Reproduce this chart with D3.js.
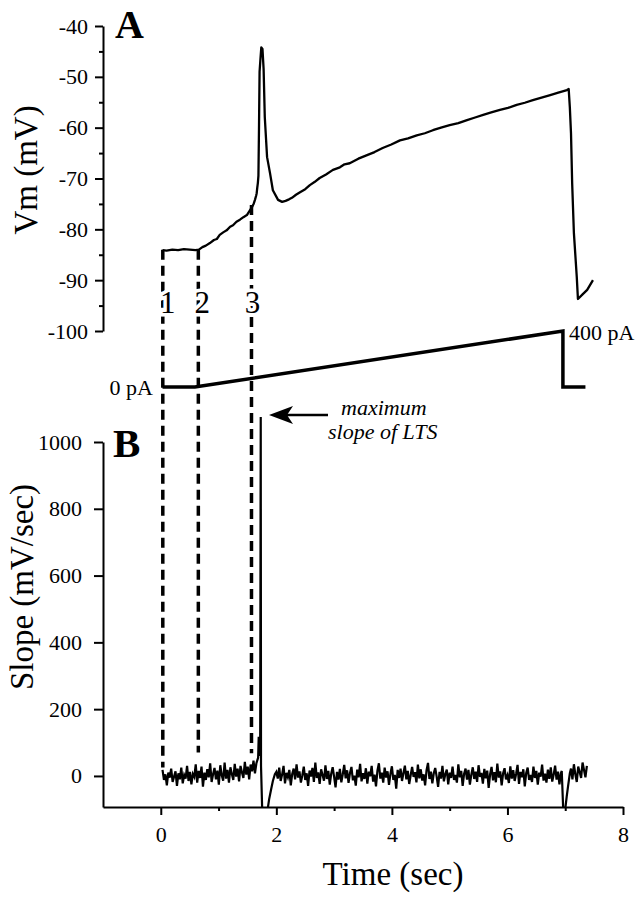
<!DOCTYPE html>
<html>
<head>
<meta charset="utf-8">
<script src="https://cdn.jsdelivr.net/npm/d3@7"></script>
<style>
  body { margin: 0; background: #fff; }
  svg { font-family: "Liberation Serif", "Times New Roman", serif; }
  .axis path, .axis line { stroke: #000; stroke-width: 2; }
  .axis text { font-size: 22px; fill: #000; font-family: "Liberation Serif", serif; }
</style>
</head>
<body>
<script>
// membrane potential trace, [time s, mV]
var vmTrace = [
  [0.03,-84.1],[0.1,-84.2],[0.2,-84.0],[0.3,-84.1],[0.4,-83.9],[0.5,-84.0],[0.6,-84.1],[0.66,-84.0],
  [0.72,-83.5],[0.78,-83.2],[0.85,-82.7],[0.92,-82.1],[0.97,-81.9],[1.02,-81.1],[1.08,-80.6],[1.14,-80.2],
  [1.2,-79.5],[1.25,-79.2],[1.31,-78.5],[1.37,-78.1],[1.43,-77.6],[1.49,-77.2],[1.54,-76.3],[1.58,-75.6],
  [1.61,-74.9],[1.63,-74.2],[1.65,-73.4],[1.66,-72.9],[1.67,-71.8],[1.68,-70.9],[1.69,-69.5],[1.70,-60],
  [1.71,-49],[1.725,-46.5],[1.74,-44.2],[1.76,-44.5],[1.78,-48.5],[1.80,-57.9],[1.84,-65.8],[1.89,-68.9],
  [1.94,-72.3],[2.03,-74.2],[2.1,-74.6],[2.16,-74.4],[2.22,-74.1],[2.27,-73.8],[2.34,-73.2],[2.41,-72.7],
  [2.5,-72.1],[2.58,-71.3],[2.66,-70.7],[2.75,-69.9],[2.86,-69.2],[2.98,-68.3],[3.1,-67.8],[3.18,-67.2],
  [3.27,-67.0],[3.42,-66.1],[3.57,-65.4],[3.7,-64.8],[3.84,-64.0],[3.99,-63.3],[4.14,-62.5],[4.28,-62.1],
  [4.43,-61.5],[4.57,-61.1],[4.71,-60.5],[4.85,-60.0],[5.0,-59.5],[5.15,-59.1],[5.3,-58.5],[5.44,-58.0],
  [5.58,-57.5],[5.72,-57.0],[5.87,-56.5],[6.01,-56.1],[6.16,-55.5],[6.3,-55.1],[6.44,-54.6],[6.59,-54.1],
  [6.74,-53.6],[6.88,-53.1],[7.03,-52.6],[7.06,-52.4],[7.08,-56],[7.10,-61.1],[7.12,-70.9],[7.15,-80.7],
  [7.20,-89.4],[7.22,-93.7],[7.30,-92.8],[7.38,-91.9],[7.48,-90.0]
];

// injected current ramp, [time s, pA]
var currentTrace = [[0.03,0],[0.59,0],[6.96,400],[6.96,0],[7.35,0]];

// slope trace, sampled at 0.025 s, mV/sec
var slopeDt = 0.025;
var slopeStart1 = 0.03;
var slopeSeg1 = [18,-12,5,-28,10,-5,22,-18,-2,14,-30,8,-10,25,-22,3,-8,30,-15,12,-25,6,-3,35,-20,15,-6,28,-32,10,
  -12,20,-4,38,-18,5,24,-10,16,-26,32,2,-14,40,-8,18,-20,26,6,-12,36,-2,22,-16,30,10,-6,42,4,28,-10,34,14,46,8,38,52];
var slopeSpike = [[1.685,55],[1.695,117],[1.72,60],[1.73,1075],[1.735,30],[1.755,-100],[1.85,-100],
  [1.875,-70],[1.91,-40],[1.94,-15],[1.975,5]];
var slopeStart2 = 2.0;
var slopeSeg2 = [12,-8,25,-15,4,30,-22,9,-4,18, -28,6,22,-10,35,-5,14,-20,2,28, -12,8,-30,16,-2,24,-18,40,-6,11,
  -24,20,3,-14,32,-9,15,-26,7,26, -3,-34,12,-11,21,-19,5,33,-7,17, -21,9,27,-13,1,-29,19,-4,36,-16,
  8,-9,23,-23,13,-1,30,-17,4,-31, 16,38,-8,10,-20,25,-5,14,-27,6, 29,-12,3,-38,18,-6,22,-15,9,31,
  -10,15,-24,2,27,-3,11,-19,34,-7, 20,-14,5,-28,17,39,-9,13,-22,8, 24,-2,-33,12,-8,30,-16,6,19,-25,
  10,-6,28,-12,3,-20,35,-4,15,-30, 7,22,-11,18,-26,4,26,-9,13,-18, 32,-3,9,-23,21,-7,16,-36,5,27,
  -13,11,-19,37,-5,14,-28,8,23,-10, 2,-21,29,-8,17,-15,6,33,-24,12, -4,20,-31,9,25,-12,3,-18,28,-6,
  15,-26,10,-2,34,-14,7,-20,19,-9, 26,-17,4,31,-11,13,-25,8];
var slopeDip = [[6.94,15],[6.965,-100],[7.0,-100],[7.025,-63],[7.05,-30],[7.08,8]];
var slopeStart3 = 7.1;
var slopeSeg3 = [22,-10,35,5,-18,28,12,-6,40,18,-4,30];

// dashed markers 1, 2, 3
var markerNames = ["1","2","3"];
var markerTimes = [0.035, 0.65, 1.57];
var markerVm = [-84, -84, -75.2];
var markerSlope = [25, 70, 68];

var vmTicks = [-40,-50,-60,-70,-80,-90,-100];
var vmMinor = [-45,-55,-65,-75,-85,-95];
var slopeTicks = [0,200,400,600,800,1000];
var timeTicks = [0,2,4,6,8];
var timeMinor = [1,3,5,7];

var W = 640, H = 899;
var svg = d3.select("body").append("svg").attr("width", W).attr("height", H);

var x = d3.scaleLinear().domain([-1, 8]).range([103, 623]);
var yVm = d3.scaleLinear().domain([-100, -40]).range([331, 26]);
var yCur = d3.scaleLinear().domain([0, 400]).range([387, 331]);
var ySlope = d3.scaleLinear().domain([-93, 1000]).range([807, 442]);

// assemble slope series
var slopeData = [];
slopeSeg1.forEach((v, i) => slopeData.push([slopeStart1 + i * slopeDt, v]));
slopeSpike.forEach(d => slopeData.push(d));
slopeSeg2.forEach((v, i) => slopeData.push([slopeStart2 + i * slopeDt, v]));
slopeDip.forEach(d => slopeData.push(d));
slopeSeg3.forEach((v, i) => slopeData.push([slopeStart3 + i * slopeDt, v]));

// ----- panel A axis
svg.append("g").attr("class", "axis").attr("transform", "translate(103,0)")
  .call(d3.axisLeft(yVm).tickValues(vmTicks).tickSize(8).tickPadding(7).tickSizeOuter(0)
    .tickFormat(d => String(d)));
svg.append("g").attr("class", "axis").attr("transform", "translate(103,0)")
  .call(d3.axisLeft(yVm).tickValues(vmMinor).tickSize(4).tickFormat("").tickSizeOuter(0))
  .select(".domain").remove();

// ----- panel B axes
svg.append("g").attr("class", "axis").attr("transform", "translate(103,0)")
  .call(d3.axisLeft(ySlope).tickValues(slopeTicks).tickSize(9).tickPadding(12).tickSizeOuter(0)
    .tickFormat(d => String(d)));
svg.append("g").attr("class", "axis").attr("transform", "translate(0,807)")
  .call(d3.axisBottom(x).tickValues(timeTicks).tickSize(8).tickPadding(11).tickSizeOuter(0)
    .tickFormat(d => String(d)));
svg.append("g").attr("class", "axis").attr("transform", "translate(0,807)")
  .call(d3.axisBottom(x).tickValues(timeMinor).tickSize(4).tickFormat("").tickSizeOuter(0))
  .select(".domain").remove();

// ----- traces
svg.append("path")
  .datum(vmTrace)
  .attr("d", d3.line().x(d => x(d[0])).y(d => yVm(d[1])))
  .attr("fill", "none").attr("stroke", "#000").attr("stroke-width", 2.3)
  .attr("stroke-linejoin", "round");

svg.append("path")
  .datum(currentTrace)
  .attr("d", d3.line().x(d => x(d[0])).y(d => yCur(d[1])))
  .attr("fill", "none").attr("stroke", "#000").attr("stroke-width", 3.5);

svg.append("clipPath").attr("id", "clipB")
  .append("rect").attr("x", 103).attr("y", 0).attr("width", 530).attr("height", 807);

svg.append("path")
  .datum(slopeData)
  .attr("clip-path", "url(#clipB)")
  .attr("d", d3.line().x(d => x(d[0])).y(d => ySlope(d[1])))
  .attr("fill", "none").attr("stroke", "#000").attr("stroke-width", 2.2);

// ----- dashed markers
svg.selectAll(".marker")
  .data(markerTimes)
  .enter()
  .append("line")
  .attr("class", "marker")
  .attr("x1", d => x(d)).attr("x2", d => x(d))
  .attr("y1", (d, i) => yVm(markerVm[i]))
  .attr("y2", (d, i) => ySlope(markerSlope[i]))
  .attr("stroke", "#000").attr("stroke-width", 3.5)
  .attr("stroke-dasharray", "10,6");

var labelShift = [5, 4, 1];
svg.selectAll(".mlabel")
  .data(markerNames)
  .enter()
  .append("text")
  .attr("x", (d, i) => x(markerTimes[i]) + labelShift[i])
  .attr("y", 313)
  .attr("text-anchor", "middle")
  .attr("font-size", 31)
  .attr("stroke", "#fff").attr("stroke-width", 7).attr("paint-order", "stroke")
  .text(d => d);

// ----- texts
svg.append("text").attr("x", 115).attr("y", 38)
  .attr("font-size", 40).attr("font-weight", "bold").text("A");
svg.append("text").attr("x", 113).attr("y", 457)
  .attr("font-size", 41).attr("font-weight", "bold").text("B");

svg.append("text").attr("transform", "translate(37,170) rotate(-90)")
  .attr("text-anchor", "middle").attr("font-size", 33).text("Vm (mV)");
svg.append("text").attr("transform", "translate(33,587) rotate(-90)")
  .attr("text-anchor", "middle").attr("font-size", 33).text("Slope (mV/sec)");
svg.append("text").attr("x", 393).attr("y", 885)
  .attr("text-anchor", "middle").attr("font-size", 33).text("Time (sec)");

svg.append("text").attr("x", 153).attr("y", 395)
  .attr("text-anchor", "end").attr("font-size", 22).text("0 pA");
svg.append("text").attr("x", 569).attr("y", 340)
  .attr("font-size", 22).text("400 pA");

// annotation arrow
svg.append("line").attr("x1", 287).attr("y1", 415).attr("x2", 328).attr("y2", 415)
  .attr("stroke", "#000").attr("stroke-width", 2.5);
svg.append("path").attr("d", "M269,415 L293,406 L287,415 L293,424 Z").attr("fill", "#000");
svg.append("text").attr("x", 341).attr("y", 415)
  .attr("font-size", 22).attr("font-style", "italic").text("maximum");
svg.append("text").attr("x", 328).attr("y", 439)
  .attr("font-size", 22).attr("font-style", "italic").text("slope of LTS");
</script>
</body>
</html>
